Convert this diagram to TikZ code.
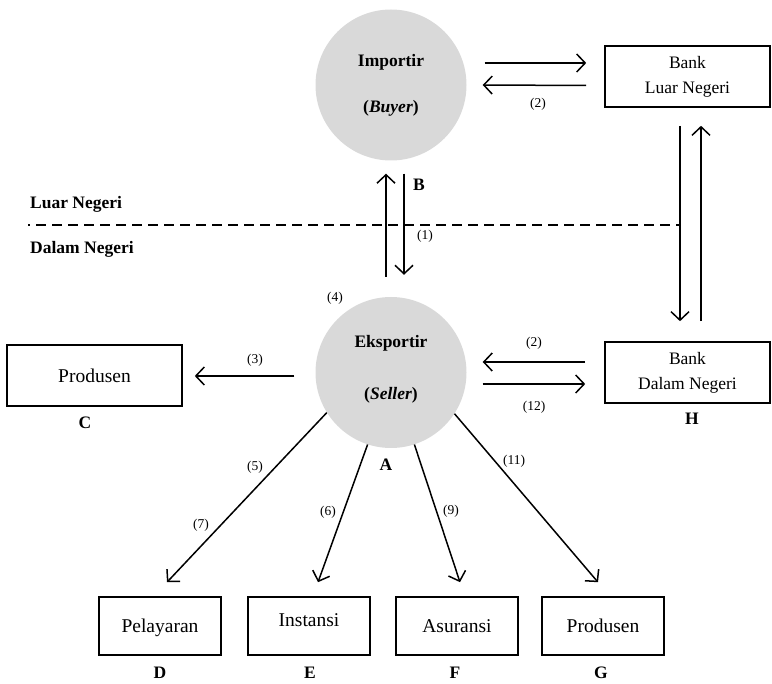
\documentclass[tikz,border=0pt]{standalone}
\usepackage{fontspec}
\setmainfont{Liberation Serif}
\usetikzlibrary{arrows.meta,calc}
\definecolor{partygray}{RGB}{217,217,217}
\begin{document}
\begin{tikzpicture}[x=1pt,y=-1pt,
  arr/.style={line width=1.5pt,-{Straight Barb[length=8.5pt,width=18pt,line width=1.5pt]}},
  party/.style={circle,fill=partygray,minimum size=151pt,inner sep=0pt},
  box/.style={draw,line width=1.6pt,inner sep=0pt,font=\fontsize{19.5}{22}\selectfont},
  bankbox/.style={draw,line width=1.6pt,inner sep=0pt,minimum width=165pt,minimum height=61pt,
    align=center,font=\fontsize{17.5}{25}\selectfont},
  unit/.style={box,minimum width=122pt,minimum height=58pt,text height=13pt,text depth=0pt},
  num/.style={font=\fontsize{13.5}{15}\selectfont,inner sep=0pt},
  tag/.style={font=\fontsize{17.5}{20}\selectfont\bfseries,inner sep=0pt},
  border/.style={line width=2.5pt,dash pattern=on 10pt off 6pt,dash phase=8pt},
]
\useasboundingbox (0,0) rectangle (772,684);

% parties
\node[party] (imp) at (391,85) {};
\node[tag] (impname) at (391,62) {Importir};
\node[tag] (improle) at (391,108) {(\textit{Buyer})};
\node[party] (exp) at (391,372.5) {};
\node[tag] (expname) at (391,343) {Eksportir};
\node[tag] (exprole) at (391,395) {(\textit{Seller})};

% banks
\node[bankbox] (bankL) at (687.5,76.5) {Bank\\Luar Negeri};
\node[bankbox] (bankD) at (687.5,372.5) {Bank\\Dalam Negeri};

% other parties
\node[box,minimum width=175pt,minimum height=61pt] (prodC) at (94.5,375.5) {Produsen};
\node[unit] (pel) at (160,626) {Pelayaran};
\node[unit] (ins) at (309,626) {\raisebox{6pt}{Instansi}};
\node[unit] (asu) at (457,626) {Asuransi};
\node[unit] (prodG) at (603,626) {Produsen};

% letters
\node[tag] (tA) at (386,465) {A};
\node[tag] (tB) at (419,185) {B};
\node[tag] (tC) at (85,423) {C};
\node[tag] (tD) at (160,673) {D};
\node[tag] (tE) at (310,673) {E};
\node[tag] (tF) at (455,673) {F};
\node[tag] (tG) at (601,673) {G};
\node[tag] (tH) at (692,419) {H};

% domestic / foreign border
\coordinate (borderW) at (28,225);
\coordinate (borderE) at (680,225);
\draw[border] (borderW) -- (borderE);
\node[tag,anchor=west] (luar) at (30,204) {Luar Negeri};
\node[tag,anchor=west] (dalam) at (30,249) {Dalam Negeri};

% importer <-> foreign bank
\draw[arr] ($(imp.east)+(18,-22)$) -- ($(bankL.west)+(-18,-13.5)$);
\draw[arr] ($(bankL.west)+(-18,9)$) -- ($(imp.east)+(16,0)$);
\node[num] (n2a) at (538,104) {(2)};

% importer <-> exporter
\draw[arr] ($(exp.north)+(-5,-20)$) -- ($(imp.south)+(-5,13)$);
\draw[arr] ($(imp.south)+(13,13)$) -- ($(exp.north)+(13,-22)$);
\node[num] (n1) at (425,236) {(1)};

% foreign bank <-> domestic bank
\draw[arr] ($(bankL.south)+(-7.5,18)$) -- ($(bankD.north)+(-7.5,-20)$);
\draw[arr] ($(bankD.north)+(13.5,-20)$) -- ($(bankL.south)+(13.5,18)$);

% exporter <-> domestic bank
\draw[arr] ($(bankD.west)+(-19,-10.5)$) -- ($(exp.east)+(16,-10.5)$);
\draw[arr] ($(exp.east)+(16,11.5)$) -- ($(bankD.west)+(-19,11.5)$);
\node[num] (n2b) at (534,343) {(2)};
\node[num] (n12) at (534,407) {(12)};

% exporter -> producer
\draw[arr] ($(exp.west)+(-21,3.5)$) -- ($(prodC.east)+(12,0.5)$);
\node[num] (n3) at (255,360) {(3)};
\node[num] (n4) at (335,298) {(4)};

% exporter -> service parties
\draw[arr] (exp.212) -- ($(pel.north)+(7,-14)$);
\draw[arr] (exp.252) -- ($(ins.north)+(9,-14)$);
\draw[arr] (exp.288) -- ($(asu.north)+(3,-14)$);
\draw[arr] (exp.327) -- ($(prodG.north)+(-5,-14)$);
\node[num] (n5) at (255,467) {(5)};
\node[num] (n7) at (201,525) {(7)};
\node[num] (n6) at (328,512) {(6)};
\node[num] (n9) at (451,511) {(9)};
\node[num] (n11) at (514,461) {(11)};
\end{tikzpicture}
\end{document}
